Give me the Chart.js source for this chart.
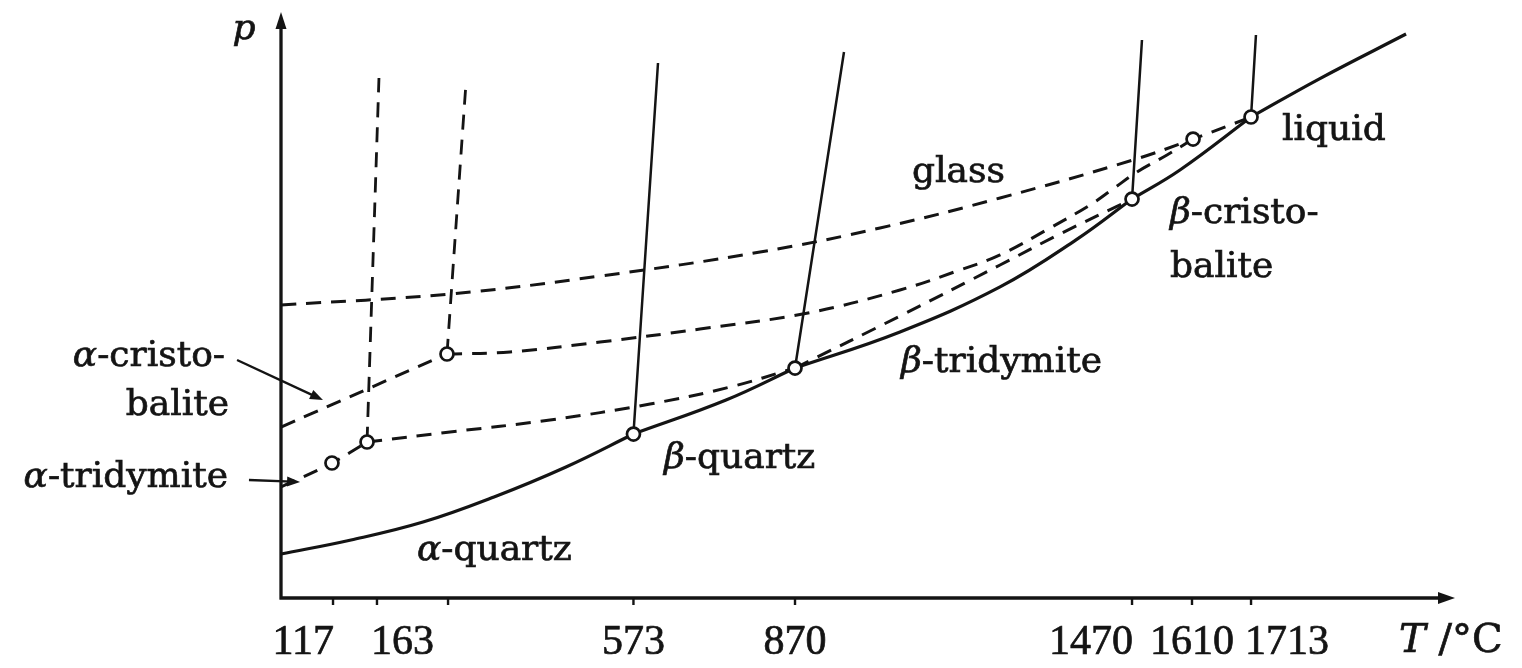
<!DOCTYPE html>
<html>
<head>
<meta charset="utf-8">
<title>SiO2 vapour pressure diagram</title>
<script src="https://cdn.jsdelivr.net/npm/chart.js@4.4.1/dist/chart.umd.min.js"></script>
<style>
  html, body { margin: 0; padding: 0; background: #fff; }
  #wrap { width: 1522px; height: 668px; }
</style>
</head>
<body>
<div id="wrap"><canvas id="phaseChart" width="1522" height="668"></canvas></div>
<script>
// schematic diagram: T runs 0..100 and p runs 0..50 in drawing units, no real scale
const tickPos = [4.45, 8.21, 14.29, 30.15, 43.97, 72.80, 77.93, 82.98];
const tickLabels = ['117', '163', '', '573', '870', '1470', '1610', '1713'];

// stable curve, one piece per phase
const aQuartzT = [0, 5.99, 12.15, 18.22, 24.38, 30.15];
const aQuartzP = [3.75, 4.95, 6.48, 8.62, 11.18, 13.99];
const bQuartzT = [30.15, 38.07, 43.97];
const bQuartzP = [13.99, 16.89, 19.62];
const bTridT = [43.97, 52.95, 61.51, 68.01, 72.80];
const bTridP = [19.62, 22.70, 26.54, 30.55, 34.04];
const bCristT = [72.80, 76.90, 82.98];
const bCristP = [34.04, 36.52, 41.04];
const liquidT = [82.98, 88.79, 96.24];
const liquidP = [41.04, 44.28, 48.12];

// metastable curves (dashed)
const glassT = [0, 14.46, 27.29, 40.98, 51.24, 61.51, 72.88, 78.02, 82.98];
const glassP = [25.00, 25.94, 27.47, 29.52, 31.57, 34.13, 37.37, 39.16, 41.04];
const bCristMetaT = [14.20, 19.59, 27.29, 35.84, 45.08, 52.95, 58.08, 61.51, 65.78, 69.20, 71.17, 73.23, 75.79, 78.02];
const bCristMetaP = [20.82, 20.99, 21.84, 22.95, 24.32, 26.28, 27.99, 29.27, 31.57, 33.53, 34.90, 36.35, 37.80, 39.16];
const bQuartzMetaT = [43.97, 52.95, 61.51, 66.64, 72.80];
const bQuartzMetaP = [19.62, 24.06, 28.41, 31.06, 34.04];
const bTridMetaT = [7.36, 14.46, 23.01, 31.57, 38.41, 43.97];
const bTridMetaP = [13.31, 14.16, 15.19, 16.55, 18.00, 19.62];
const aCristT = [0, 14.20];
const aCristP = [14.59, 20.82];
const aTridT = [0, 4.36, 7.36];
const aTridP = [9.47, 11.52, 13.31];

// transition lines going up from the triple points
const v163T = [7.36, 8.38],   v163P = [13.31, 44.37];
const vCristT = [14.20, 15.83], vCristP = [20.82, 44.03];
const v573T = [30.15, 32.25], v573P = [13.99, 45.65];
const v870T = [43.97, 48.16], v870P = [19.62, 46.59];
const v1470T = [72.80, 73.65], v1470P = [34.04, 47.61];
const v1713T = [82.98, 83.40], v1713P = [41.04, 48.04];

// transition points (open circles)
const pointT = [4.36, 7.36, 14.20, 30.15, 43.97, 72.80, 78.02, 82.98];
const pointP = [11.52, 13.31, 20.82, 13.99, 19.62, 34.04, 39.16, 41.04];

const ink = '#141414';
const tickAlign = ['right', 'left', 'center', 'center', 'center', 'right', 'center', 'left'];

// phase names: [text, italic] runs, anchored in drawing units
const notes = [
  { parts: [['glass', false]], x: 53.98, y: 35.49, align: 'left' },
  { parts: [['liquid', false]], x: 85.63, y: 39.08, align: 'left' },
  { parts: [['β', true], ['-cristo-', false]], x: 76.05, y: 32.00, align: 'left' },
  { parts: [['balite', false]], x: 76.05, y: 27.39, align: 'left' },
  { parts: [['β', true], ['-tridymite', false]], x: 53.04, y: 19.28, align: 'left' },
  { parts: [['α', true], ['-quartz', false]], x: 11.63, y: 3.24, align: 'left' },
  { parts: [['β', true], ['-quartz', false]], x: 32.76, y: 11.09, align: 'left' },
  { parts: [['α', true], ['-cristo-', false]], x: -4.79, y: 19.80, align: 'right' },
  { parts: [['balite', false]], x: -4.45, y: 15.61, align: 'right' },
  { parts: [['α', true], ['-tridymite', false]], x: -4.53, y: 9.47, align: 'right' }
];
const pointers = [
  { from: [-3.76, 20.31], to: [3.59, 16.89] },
  { from: [-2.74, 10.07], to: [1.63, 9.90] }
];

function toPoints(xs, ys) {
  return xs.map((v, i) => ({ x: v, y: ys[i] }));
}

function curve(xs, ys, dashed, width) {
  return {
    data: toPoints(xs, ys),
    showLine: true,
    borderColor: ink,
    borderWidth: width,
    borderDash: dashed ? [15, 10] : [],
    borderCapStyle: 'butt',
    pointRadius: 0,
    tension: 0.4,
    fill: false,
    clip: false,
    order: 1
  };
}

function arrowHead(ctx, x1, y1, x2, y2, len, half) {
  const a = Math.atan2(y2 - y1, x2 - x1);
  ctx.beginPath();
  ctx.moveTo(x2, y2);
  ctx.lineTo(x2 - len * Math.cos(a) + half * Math.sin(a), y2 - len * Math.sin(a) - half * Math.cos(a));
  ctx.lineTo(x2 - len * Math.cos(a) - half * Math.sin(a), y2 - len * Math.sin(a) + half * Math.cos(a));
  ctx.closePath();
  ctx.fill();
}

// text made of runs, some italic; a thin stroke thickens it like the printed original
function drawRuns(ctx, parts, x, y, align, size, family) {
  const fontOf = it => (it ? 'italic ' : '') + size + 'px ' + family;
  let total = 0;
  parts.forEach(p => { ctx.font = fontOf(p[1]); total += ctx.measureText(p[0]).width; });
  let cx = align === 'right' ? x - total : align === 'center' ? x - total / 2 : x;
  ctx.textAlign = 'left';
  ctx.lineWidth = 0.7;
  parts.forEach(p => {
    ctx.font = fontOf(p[1]);
    ctx.fillText(p[0], cx, y);
    ctx.strokeText(p[0], cx, y);
    cx += ctx.measureText(p[0]).width;
  });
}

const sketch = {
  id: 'sketch',
  beforeDatasetsDraw(chart) {
    const { ctx, chartArea, scales: { x, y } } = chart;
    const x0 = x.getPixelForValue(0), y0 = y.getPixelForValue(0);
    ctx.save();
    ctx.strokeStyle = ink;
    ctx.fillStyle = ink;
    ctx.lineWidth = 3.3;
    ctx.lineCap = 'butt';
    ctx.beginPath();
    ctx.moveTo(x0, y0 + 1.5);
    ctx.lineTo(x0, chartArea.top + 12);
    ctx.moveTo(x0 - 1.5, y0);
    ctx.lineTo(chartArea.right - 8, y0);
    ctx.stroke();
    arrowHead(ctx, x0, y0, x0, chartArea.top, 17, 5.5);
    arrowHead(ctx, x0, y0, chartArea.right + 5, y0, 17, 6);
    // ticks under the T axis
    ctx.lineWidth = 2.4;
    ctx.beginPath();
    tickPos.forEach(t => {
      const px = x.getPixelForValue(t);
      ctx.moveTo(px, y0);
      ctx.lineTo(px, y0 + 7);
    });
    ctx.stroke();
    ctx.font = '42px "Liberation Serif"';
    ctx.textBaseline = 'alphabetic';
    ctx.lineWidth = 0.7;
    tickLabels.forEach((lab, i) => {
      if (!lab) return;
      const px = x.getPixelForValue(tickPos[i]);
      const al = tickAlign[i];
      const tx = al === 'left' ? px - 6 : al === 'right' ? px + 1 : px;
      ctx.textAlign = al;
      ctx.fillText(lab, tx, y0 + 56);
      ctx.strokeText(lab, tx, y0 + 56);
    });
    ctx.restore();
  },
  afterDatasetsDraw(chart) {
    const { ctx, scales: { x, y } } = chart;
    ctx.save();
    ctx.fillStyle = ink;
    ctx.strokeStyle = ink;
    ctx.textBaseline = 'alphabetic';
    notes.forEach(n => {
      drawRuns(ctx, n.parts, x.getPixelForValue(n.x), y.getPixelForValue(n.y), n.align, 36, '"DejaVu Serif"');
    });
    // axis names
    drawRuns(ctx, [['p', true]], x.getPixelForValue(-3.17), y.getPixelForValue(47.7), 'center', 36, '"DejaVu Serif"');
    drawRuns(ctx, [['T', true], [' /°C', false]], x.getPixelForValue(95.64), y.getPixelForValue(-4.61), 'left', 40, '"DejaVu Serif"');
    // pointers from the left-hand labels
    ctx.lineWidth = 2.4;
    pointers.forEach(a => {
      const x1 = x.getPixelForValue(a.from[0]), y1 = y.getPixelForValue(a.from[1]);
      const x2 = x.getPixelForValue(a.to[0]), y2 = y.getPixelForValue(a.to[1]);
      const ang = Math.atan2(y2 - y1, x2 - x1);
      ctx.beginPath();
      ctx.moveTo(x1, y1);
      ctx.lineTo(x2 - 8 * Math.cos(ang), y2 - 8 * Math.sin(ang));
      ctx.stroke();
      arrowHead(ctx, x1, y1, x2, y2, 13, 5);
    });
    ctx.restore();
  }
};

const datasets = [
  {
    data: toPoints(pointT, pointP),
    showLine: false,
    pointRadius: 6.5,
    pointBorderWidth: 2.7,
    pointBackgroundColor: '#fff',
    pointBorderColor: ink,
    clip: false,
    order: 0
  },
  curve(aQuartzT, aQuartzP, false, 3.2),
  curve(bQuartzT, bQuartzP, false, 3.2),
  curve(bTridT, bTridP, false, 3.2),
  curve(bCristT, bCristP, false, 3.2),
  curve(liquidT, liquidP, false, 3.2),
  curve(glassT, glassP, true, 3),
  curve(bCristMetaT, bCristMetaP, true, 3),
  curve(bQuartzMetaT, bQuartzMetaP, true, 3),
  curve(bTridMetaT, bTridMetaP, true, 3),
  curve(aCristT, aCristP, true, 3),
  curve(aTridT, aTridP, true, 3),
  curve(v163T, v163P, true, 2.8),
  curve(vCristT, vCristP, true, 2.8),
  curve(v573T, v573P, false, 2.5),
  curve(v870T, v870P, false, 2.5),
  curve(v1470T, v1470P, false, 2.5),
  curve(v1713T, v1713P, false, 2.5)
];

new Chart(document.getElementById('phaseChart').getContext('2d'), {
  type: 'scatter',
  data: { datasets: datasets },
  options: {
    responsive: false,
    devicePixelRatio: 1,
    animation: false,
    events: [],
    layout: { padding: { left: 281, right: 72, top: 12, bottom: 70 } },
    scales: {
      x: { type: 'linear', min: 0, max: 100, display: false },
      y: { type: 'linear', min: 0, max: 50, display: false }
    },
    plugins: { legend: { display: false }, tooltip: { enabled: false } }
  },
  plugins: [sketch]
});
</script>
</body>
</html>
